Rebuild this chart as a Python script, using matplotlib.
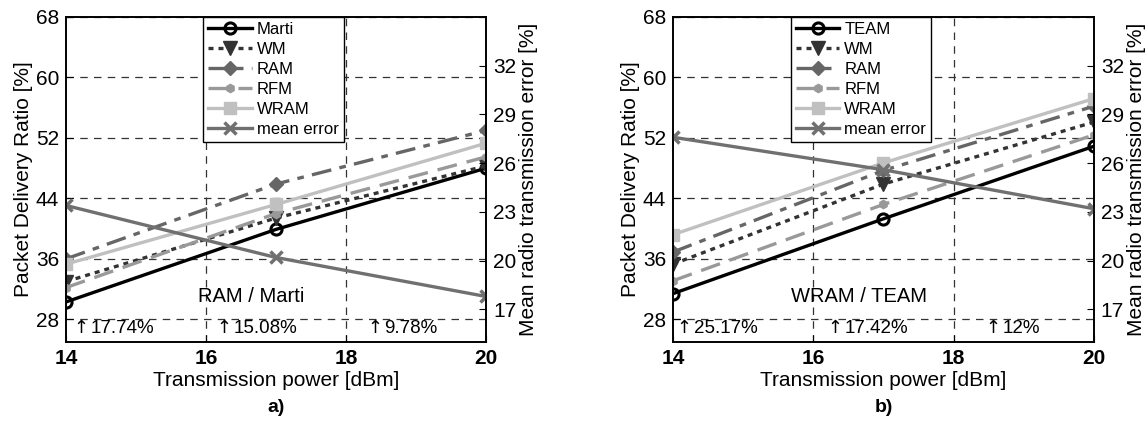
import matplotlib
matplotlib.use("Agg")
import matplotlib.pyplot as plt

plt.rcParams['font.family'] = ['Liberation Sans', 'DejaVu Sans']

x = [14, 17, 20]

# panel a)
marti = [30.3, 39.9, 48.0]
wm_a = [33.0, 41.4, 48.3]
ram_a = [36.0, 45.9, 53.0]
rfm_a = [32.2, 42.0, 49.5]
wram_a = [35.3, 43.2, 51.3]
err_a = [23.4, 20.2, 17.8]
names_a = ["Marti", "WM", "RAM", "RFM", "WRAM", "mean error"]
gains_a = ["17.74%", "15.08%", "9.78%"]
title_a = "RAM / Marti"

# panel b)
team = [31.4, 41.3, 50.9]
wm_b = [35.3, 45.9, 54.1]
ram_b = [36.9, 47.7, 56.2]
rfm_b = [33.1, 43.2, 52.4]
wram_b = [39.2, 48.7, 57.2]
err_b = [27.6, 25.6, 23.2]
names_b = ["TEAM", "WM", "RAM", "RFM", "WRAM", "mean error"]
gains_b = ["25.17%", "17.42%", "12%"]
title_b = "WRAM / TEAM"

gain_x_a = [14.1, 16.15, 18.3]
gain_x_b = [14.05, 16.2, 18.45]

left_ticks = [28, 36, 44, 52, 60, 68]
right_ticks = [17, 20, 23, 26, 29, 32]
x_ticks = [14, 16, 18, 20]

styles = [
    dict(color='black', ls='-', marker='o', mfc='none', mec='black', ms=8, mew=2.2),
    dict(color='#333333', ls=':', marker='v', mfc='#333333', mec='#333333', ms=10, mew=1),
    dict(color='#666666', ls='-.', marker='D', mfc='#666666', mec='#666666', ms=7.5, mew=1),
    dict(color='#999999', ls='--', marker='h', mfc='#999999', mec='#999999', ms=6, mew=1),
    dict(color='#c0c0c0', ls='-', marker='s', mfc='#c0c0c0', mec='#c0c0c0', ms=8, mew=1),
]
err_style = dict(color='#707070', ls='-', marker='x', ms=9, mew=2.5)

fig = plt.figure(figsize=(11.48, 4.25), dpi=100)

def panel(rect, series, err, names, gains, gx, title, label, leg_x):
    ax = fig.add_axes(rect)
    ax2 = ax.twinx()
    handles = []
    for ys, st in zip(series, styles):
        h, = ax.plot(x, ys, lw=2.4, **st)
        if st['ls'] == '--':
            h.set_dashes((6, 3))
        elif st['ls'] == '-.':
            h.set_dashes((6, 2.5, 2, 2.5))
        elif st['ls'] == ':':
            h.set_dashes((1.5, 1.5))
        handles.append(h)
    he, = ax2.plot(x, err, lw=2.4, **err_style)
    handles.append(he)
    ax.set_xlim(14, 20)
    ax.set_ylim(25, 68)
    ax2.set_ylim(15, 35)
    ax.set_xticks(x_ticks)
    ax.set_yticks(left_ticks)
    ax2.set_yticks(right_ticks)
    for a in (ax, ax2):
        a.tick_params(direction='in', length=5, width=0.8, labelsize=15, pad=5)
    for t in ax.get_xticklabels():
        t.set_fontweight('bold')
    for y in left_ticks:
        ax.axhline(y, color='#333333', lw=0.9, dashes=(6, 5), zorder=0)
    for xv in [16, 18]:
        ax.axvline(xv, color='#333333', lw=0.9, dashes=(6, 5), zorder=0)
    for s in list(ax.spines.values()) + list(ax2.spines.values()):
        s.set_linewidth(1.2)
    ax.set_ylabel("Packet Delivery Ratio [%]", fontsize=15, labelpad=2)
    ax2.set_ylabel("Mean radio transmission error [%]", fontsize=15, labelpad=2)
    ax.set_xlabel("Transmission power [dBm]", fontsize=15, labelpad=2)
    ax.text(0.5, -0.203, label, transform=ax.transAxes, ha='center', va='center',
            fontsize=14, fontweight='bold')
    ax.text(16.65, 31.0, title, ha='center', va='center', fontsize=14.5)
    for g, xv in zip(gains, gx):
        ax.text(xv, 26.9, "\u2191", ha='left', va='center', fontsize=13,
                family=['DejaVu Sans'])
        ax.text(xv + 0.25, 26.8, g, ha='left', va='center', fontsize=13.5)
    leg = ax2.legend(handles, names, loc='upper center', bbox_to_anchor=(leg_x, 1.0),
                     fontsize=12, handlelength=2.6, borderpad=0.3, labelspacing=0.3,
                     handletextpad=0.3, fancybox=False, framealpha=1,
                     edgecolor='black', borderaxespad=0)
    leg.get_frame().set_linewidth(1.0)
    return ax, ax2

panel([0.0575, 0.1953, 0.3659, 0.7647],
      [marti, wm_a, ram_a, rfm_a, wram_a], err_a, names_a, gains_a, gain_x_a,
      title_a, "a)", 0.494)
panel([0.5862, 0.1953, 0.3667, 0.7647],
      [team, wm_b, ram_b, rfm_b, wram_b], err_b, names_b, gains_b, gain_x_b,
      title_b, "b)", 0.447)

fig.savefig("out.png", dpi=100)
